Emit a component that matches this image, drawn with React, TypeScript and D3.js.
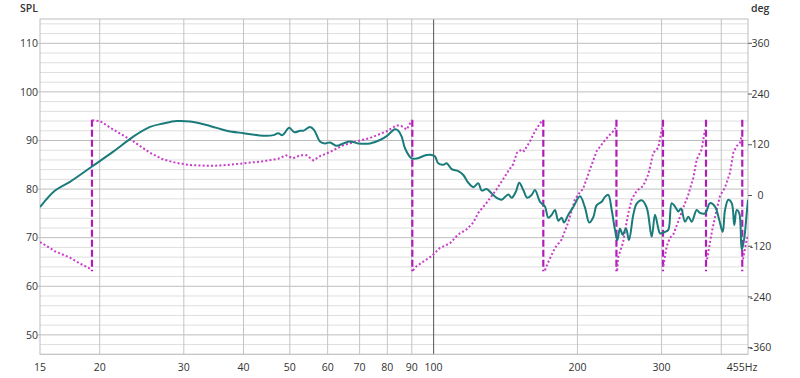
import React from "react";
import * as d3 from "d3";

// ---------- data ----------
const splFreq = [15.0, 16.13, 17.33, 19.24, 21.35, 23.52, 25.49, 27.18, 28.98, 30.91, 34.03, 36.89, 39.96, 44.01, 46.18, 47.3, 48.23, 49.88, 51.09, 52.52, 53.36, 55.11, 56.18, 57.83, 59.24, 60.69, 62.68, 64.7, 66.83, 69.56, 73.59, 77.22, 79.75, 83.01, 84.34, 85.73, 87.11, 89.97, 92.16, 96.71, 99.07, 100.66, 102.27, 104.77, 106.5, 109.1, 112.62, 115.37, 118.18, 121.06, 124.02, 126.06, 129.14, 132.29, 135.51, 138.81, 143.29, 145.66, 148.7, 151.09, 154.04, 157.03, 160.4, 162.97, 166.95, 171.02, 173.76, 176.64, 179.47, 182.36, 185.37, 187.44, 191.36, 196.02, 202.46, 207.4, 211.74, 215.87, 219.44, 224.78, 228.39, 232.05, 235.88, 239.67, 242.34, 245.52, 248.73, 252.72, 256.41, 261.78, 266.1, 272.59, 279.24, 286.05, 290.64, 295.3, 297.72, 304.98, 309.87, 315.0, 320.06, 325.2, 329.46, 335.86, 341.25, 346.89, 355.35, 361.05, 369.87, 378.89, 388.14, 396.27, 402.81, 407.3, 413.83, 420.68, 425.97, 430.92, 436.36, 441.4, 446.35, 452.19, 455.0];
const splValues = [76.3, 79.7, 81.5, 84.6, 87.7, 90.8, 92.8, 93.5, 94.0, 93.9, 93.0, 92.0, 91.5, 91.0, 91.1, 91.5, 91.1, 92.6, 91.7, 92.0, 92.0, 92.8, 92.2, 89.8, 89.4, 89.6, 88.9, 89.4, 89.8, 89.4, 89.4, 90.1, 90.9, 92.3, 92.0, 90.8, 88.4, 86.3, 86.3, 87.0, 87.0, 86.7, 85.3, 85.0, 85.3, 84.1, 83.7, 82.9, 81.3, 80.4, 81.2, 79.7, 80.0, 79.1, 78.2, 77.8, 78.9, 78.2, 79.5, 81.3, 79.8, 78.2, 78.8, 79.8, 77.4, 76.4, 74.1, 74.7, 75.7, 73.5, 74.1, 73.1, 74.7, 76.3, 78.5, 76.2, 73.1, 74.2, 76.7, 77.4, 78.4, 78.8, 75.7, 71.6, 69.5, 71.9, 70.6, 71.9, 69.5, 74.7, 77.0, 77.7, 76.2, 70.2, 74.7, 71.9, 70.9, 71.2, 71.6, 77.1, 76.4, 75.4, 76.0, 73.3, 74.3, 73.3, 75.7, 75.1, 75.0, 77.1, 76.4, 73.6, 71.2, 75.7, 77.8, 77.1, 72.6, 75.7, 75.0, 67.5, 69.5, 75.0, 77.8];

const phaseFreq = [15.0, 16.13, 17.33, 18.19, 19.24, 19.3, 20.03, 21.35, 23.52, 25.49, 27.18, 28.98, 30.91, 34.03, 36.89, 44.01, 47.3, 49.1, 50.78, 52.52, 54.24, 56.0, 57.83, 60.69, 64.7, 69.02, 73.59, 79.75, 83.69, 85.73, 87.83, 89.97, 90.5, 92.16, 99.07, 103.11, 108.21, 112.62, 117.28, 121.06, 124.02, 129.14, 135.51, 139.89, 143.29, 146.79, 149.4, 152.86, 154.6, 159.1, 162.97, 168.32, 171.0, 173.5, 179.47, 185.37, 191.1, 197.64, 202.46, 205.41, 212.46, 219.44, 226.2, 232.0, 237.71, 240.48, 242.2, 243.2, 249.09, 255.17, 259.77, 266.1, 274.7, 281.4, 288.27, 295.3, 300.17, 301.62, 302.5, 307.49, 312.42, 317.44, 325.2, 333.12, 341.25, 349.58, 355.35, 364.02, 369.87, 373.44, 382.56, 391.34, 397.61, 407.3, 417.24, 423.93, 430.92, 437.83, 441.02, 444.2, 452.19, 455.0];
const phaseValues = [-110, -132, -147, -161, -175, 178, 176, 156, 128, 101, 85, 77, 72, 70, 72, 81, 87, 95, 88, 95, 95, 83, 93, 103, 119, 128, 136, 152, 166, 164, 156, 178, -177, -167, -143, -124, -113, -92, -80, -64, -41, -17, 15, 39, 58, 74, 101, 109, 105, 128, 152, 176, -177, -159, -124, -104, -65, -9, 8, 15, 62, 105, 125, 140, 152, 160, -177, -147, -112, -45, -9, 11, 23, 50, 101, 113, 156, 168, -167, -120, -100, -92, -61, -29, 2, 42, 85, 109, 156, -151, -84, -33, -1, 19, 54, 101, 117, 125, 140, -151, -104, -96];

const xTickValues = [15, 20, 30, 40, 50, 60, 70, 80, 90, 100, 200, 300, 455];
const xGridValues = [20, 30, 40, 50, 60, 70, 80, 90, 100, 200, 300, 400];
const splTicks = [50, 60, 70, 80, 90, 100, 110];
const phaseTicks = [-360, -240, -120, 0, 120, 240, 360];

// ---------- layout ----------
const W = 800;
const H = 378;
const L = 40;
const R = 748;
const T = 19;
const B = 354.3;
const FONT = "'Open Sans', 'Noto Sans', sans-serif";

export default function App() {
  const x = d3.scaleLog().domain([15, 455]).range([L, R]);
  const y = d3.scaleLinear().domain([46, 115]).range([B, T]);
  const yp = d3.scaleLinear().domain([-360, 360]).range([347.7, 43.3]);

  const minorTicks = d3.range(46, 115.01, 2);

  const splData = splFreq.map((f, i) => [f, splValues[i]] as [number, number]);
  const splLine = d3
    .line<[number, number]>()
    .x((d) => x(d[0]))
    .y((d) => y(d[1]))
    .curve(d3.curveCatmullRom.alpha(0.5));

  // split phase into segments at wraps
  const segments: [number, number][][] = [];
  const wraps: number[] = [];
  let cur: [number, number][] = [];
  phaseFreq.forEach((f, i) => {
    const p = phaseValues[i];
    if (i > 0 && Math.abs(p - phaseValues[i - 1]) > 180) {
      segments.push(cur);
      cur = [];
      wraps.push(Math.sqrt(f * phaseFreq[i - 1]));
    }
    cur.push([f, p]);
  });
  segments.push(cur);
  const phaseLine = d3
    .line<[number, number]>()
    .x((d) => x(d[0]))
    .y((d) => yp(d[1]))
    .curve(d3.curveLinear);

  return (
    <svg
      width={W}
      height={H}
      style={{ position: "absolute", left: 0, top: 0, background: "#fff" }}
      fontFamily={FONT}
    >
      <defs>
        <clipPath id="plotclip">
          <rect x={L} y={T} width={R - L} height={B - T} />
        </clipPath>
      </defs>
      <rect x={0} y={0} width={W} height={H} fill="#fff" />
      {/* minor horizontal grid */}
      {minorTicks.map((v) => (
        <line key={"m" + v} x1={L} x2={R} y1={y(v)} y2={y(v)} stroke={v % 10 === 0 ? "#bdbdbd" : "#dedede"} strokeWidth={1} />
      ))}
      {/* vertical grid */}
      {xGridValues.map((f) => (
        <line key={"v" + f} x1={x(f)} x2={x(f)} y1={T} y2={B} stroke={f === 100 ? "#555" : "#c4c4c4"} strokeWidth={1} />
      ))}
      {/* border */}
      <rect x={L} y={T} width={R - L} height={B - T} fill="none" stroke="#bdbdbd" strokeWidth={1} />

      <g clipPath="url(#plotclip)">
        {/* phase wrap dashed lines */}
        {wraps.map((f, i) => (
          <line key={"w" + i} x1={x(f)} x2={x(f)} y1={yp(179)} y2={yp(-179)} stroke="#b01cb8" strokeWidth={2.2} strokeDasharray="7,3" />
        ))}
        {segments.map((s, i) => (
          <path key={"p" + i} d={phaseLine(s) || ""} fill="none" stroke="#c83cc8" strokeWidth={2} strokeDasharray="2,2.2" />
        ))}
        <path d={splLine(splData) || ""} fill="none" stroke="#1b7b7b" strokeWidth={2} strokeLinejoin="round" />
      </g>

      {/* left axis */}
      {splTicks.map((v) => (
        <g key={"l" + v}>
          <line x1={L - 2} x2={L} y1={y(v)} y2={y(v)} stroke="#bdbdbd" />
          <text x={L - 2} y={y(v)} dy="0.35em" textAnchor="end" fontSize={10.5} fill="#333">
            {v}
          </text>
        </g>
      ))}
      {/* right axis */}
      {phaseTicks.map((v) => (
        <g key={"r" + v}>
          <line x1={R} x2={R + 4} y1={yp(v)} y2={yp(v)} stroke="#555" />
          <text x={760.5} y={yp(v)} dy="0.35em" textAnchor="middle" fontSize={10.5} fill="#333">
            {v}
          </text>
        </g>
      ))}
      {/* x axis */}
      {xTickValues.map((f) => (
        <text key={"x" + f} x={f === 455 ? 742 : x(f)} y={370.5} textAnchor="middle" fontSize={10.5} fill="#333">
          {f === 455 ? "455Hz" : f}
        </text>
      ))}
      <text x={20} y={11.5} fontSize={10.5} fontWeight={600} fill="#333">SPL</text>
      <text x={751} y={11.5} fontSize={10.5} fontWeight={600} fill="#333">deg</text>
    </svg>
  );
}
